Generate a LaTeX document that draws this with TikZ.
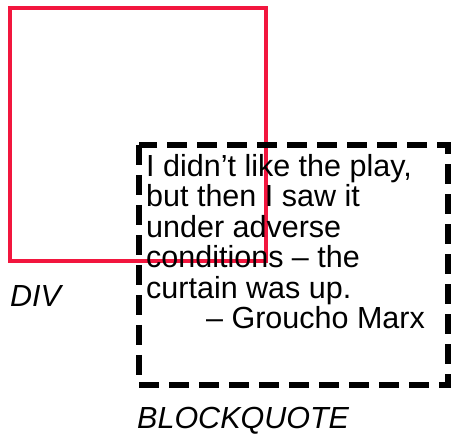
\documentclass[tikz,border=0pt]{standalone}
\usepackage{fontspec}
\setmainfont{Liberation Sans}
\usetikzlibrary{positioning}
\definecolor{divred}{HTML}{F2163E}

\begin{document}
\begin{tikzpicture}[x=1pt,y=-1pt,
    font=\fontsize{30.5}{30.5}\selectfont,
    divbox/.style={draw=divred,line width=4pt},
    quotebox/.style={draw=black,line width=5.5pt,dash pattern=on 20pt off 10pt},
    boxlabel/.style={anchor=base west,inner sep=0pt,font=\fontsize{30.5}{30.5}\selectfont\itshape}]
  \useasboundingbox (0,0) rectangle (451,435);
  \draw[divbox] (10,8) rectangle (266,261);
  \draw[quotebox] (139,145) rectangle (448,385);
  % base of a multi-line node is its last line
  \node[anchor=base west,inner sep=0pt,align=left] (quote) at (146,298.5)
    {I didn’t like the play,\\ but then I saw it\\ under adverse\\ conditions – the\\ curtain was up.};
  \node[anchor=base west,inner sep=0pt] (author) at (206,329) {– Groucho Marx};
  \node[boxlabel] (divlabel) at (10,307) {DIV};
  \node[boxlabel] (bqlabel) at (137,429) {BLOCKQUOTE};
\end{tikzpicture}
\end{document}
